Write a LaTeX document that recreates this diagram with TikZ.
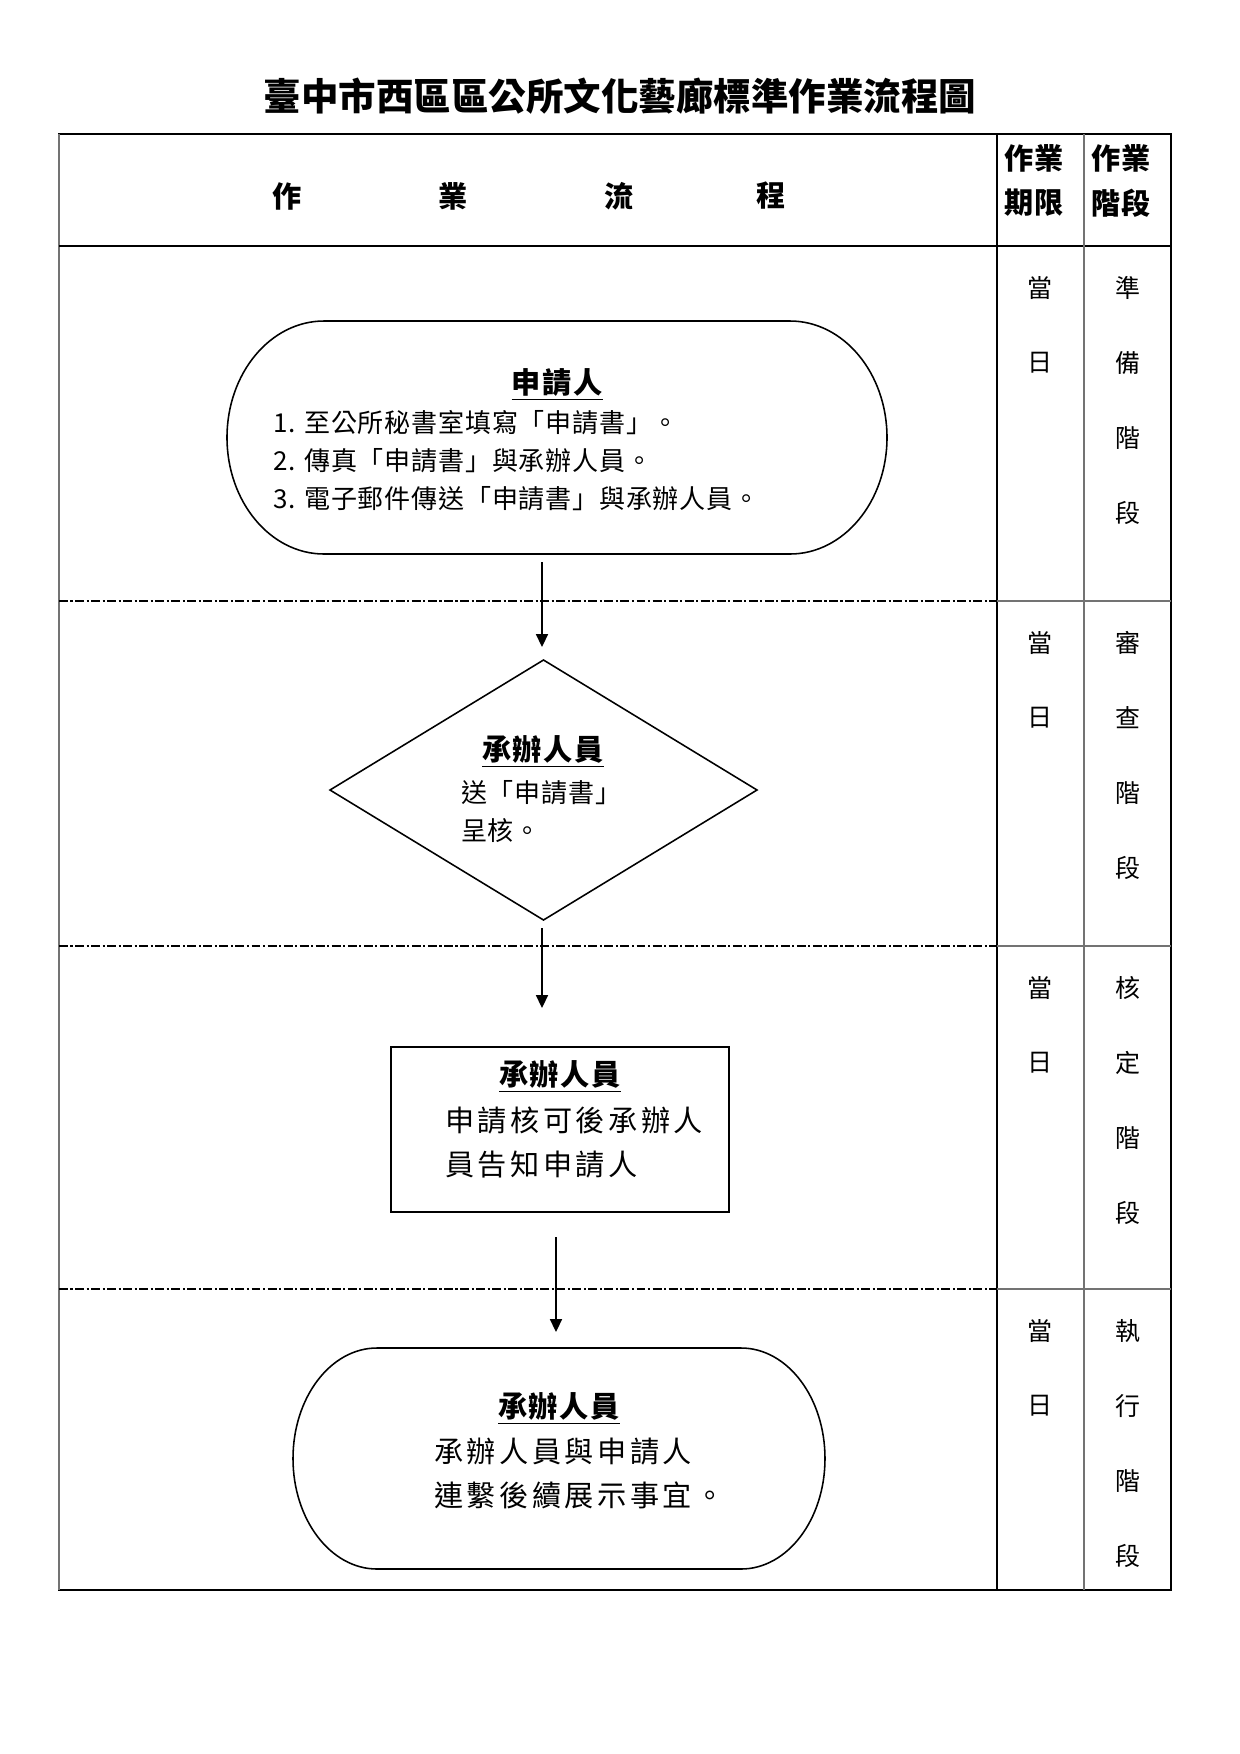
\documentclass[tikz,border=0pt]{standalone}
\usepackage{fontspec}
\setmainfont{Noto Sans CJK TC}
\usetikzlibrary{shapes.geometric,arrows.meta}
\newdimen\px \px=0.48pt
\begin{document}
\begin{tikzpicture}[x=0.48pt,y=0.48pt,
  every node/.style={inner sep=0pt, outer sep=0pt},
  tline/.style={line width=1pt, black},
  gline/.style={line width=1pt, black!55},
  dline/.style={line width=0.5pt, dash pattern=on 4.3pt off 1.2pt on 1pt off 1.2pt},
  shapeline/.style={line width=0.75pt},
  arr/.style={line width=0.7pt, -{Triangle[length=6.2pt,width=5.8pt]}},
  bigtitle/.style={font=\fontsize{18}{22}\selectfont\bfseries},
  headch/.style={font=\fontsize{14}{16}\selectfont\bfseries},
  colhead/.style={font=\fontsize{14}{16}\selectfont\bfseries\addfontfeature{LetterSpace=4}},
  colchar/.style={font=\fontsize{12}{14}\selectfont},
  ttl/.style={font=\fontsize{14}{16}\selectfont\bfseries\addfontfeature{LetterSpace=6}},
  txt/.style={anchor=west, font=\fontsize{12.5}{15}\selectfont\addfontfeature{LetterSpace=3}},
  wtxt/.style={anchor=west, font=\fontsize{14}{16}\selectfont\addfontfeature{LetterSpace=12}},
]
\useasboundingbox (0,0) rectangle (1240,-1754);

% title
\node[bigtitle] (title) at (620,-96) {臺中市西區區公所文化藝廊標準作業流程圖};

% table frame
\draw[tline] (59,-134) rectangle (1171,-1590);
\draw[gline] (59,-134) -- (59,-1590);
\draw[tline] (59,-246) -- (1171,-246);
\draw[line width=0.6pt] (997,-134) -- (997,-1590);
\draw[gline] (1084,-134) -- (1084,-1590);
\foreach \yy in {601,946,1289}{
  \draw[gline, line width=0.8pt] (997,-\yy) -- (1171,-\yy);
  \draw[dline] (59,-\yy) -- (997,-\yy);
}

% header
\node[headch] (h1) at (287,-196) {作};
\node[headch] (h2) at (453,-196) {業};
\node[headch] (h3) at (619,-196) {流};
\node[headch] (h4) at (771,-196) {程};
\node[colhead] (c1a) at (1034,-158) {作業};
\node[colhead] (c1b) at (1034,-203) {期限};
\node[colhead] (c2a) at (1121,-158) {作業};
\node[colhead] (c2b) at (1121,-203) {階段};

% right columns
\foreach \top/\a/\b/\c/\d [count=\i] in {246/準/備/階/段, 601/審/查/階/段, 946/核/定/階/段, 1289/執/行/階/段}{
  \node[colchar] (d\i a) at (1040,-\top-42) {當};
  \node[colchar] (d\i b) at (1040,-\top-117) {日};
  \node[colchar] (p\i a) at (1128,-\top-42) {\a};
  \node[colchar] (p\i b) at (1128,-\top-117) {\b};
  \node[colchar] (p\i c) at (1128,-\top-192) {\c};
  \node[colchar] (p\i d) at (1128,-\top-267) {\d};
}

% shape 1: stadium
\node[minimum width=660\px, minimum height=233\px] (s1) at (557,-437.5) {};
\draw[shapeline] ([xshift=97\px]s1.north west) -- ([xshift=-97\px]s1.north east)
  arc[start angle=90, end angle=-90, x radius=97\px, y radius=116.5\px]
  -- ([xshift=97\px]s1.south west)
  arc[start angle=270, end angle=90, x radius=97\px, y radius=116.5\px] -- cycle;
\node[ttl] (s1t) at (557,-385) {\underline{申請人}};
\node[txt] (s1l1) at (273,-423) {1. 至公所秘書室填寫「申請書」。};
\node[txt] (s1l2) at (273,-461) {2. 傳真「申請書」與承辦人員。};
\node[txt] (s1l3) at (273,-499) {3. 電子郵件傳送「申請書」與承辦人員。};

% shape 2: diamond
\node[diamond, draw, shapeline, minimum width=427\px, minimum height=260\px] (d) at (543.5,-790) {};
\node[ttl] (dt) at (543,-752) {\underline{承辦人員}};
\node[txt] (dl1) at (461,-793) {送「申請書」};
\node[txt] (dl2) at (461,-831) {呈核。};

% shape 3: rectangle
\node[draw, shapeline, minimum width=338\px, minimum height=165\px] (r) at (560,-1129.5) {};
\node[ttl] (rt) at (560,-1077) {\underline{承辦人員}};
\node[wtxt] (rl1) at (445,-1121) {申請核可後承辦人};
\node[wtxt] (rl2) at (445,-1165) {員告知申請人};

% shape 4: stadium
\node[minimum width=532\px, minimum height=221\px] (s4) at (559,-1458.5) {};
\draw[shapeline] ([xshift=84\px]s4.north west) -- ([xshift=-84\px]s4.north east)
  arc[start angle=90, end angle=-90, x radius=84\px, y radius=110.5\px]
  -- ([xshift=84\px]s4.south west)
  arc[start angle=270, end angle=90, x radius=84\px, y radius=110.5\px] -- cycle;
\node[ttl] (s4t) at (559,-1409) {\underline{承辦人員}};
\node[wtxt] (s4l1) at (434,-1452) {承辦人員與申請人};
\node[wtxt] (s4l2) at (434,-1495) {連繫後續展示事宜。};

% connectors
\draw[arr, shorten <=8\px, shorten >=13\px] ([xshift=-1.5\px]d.north |- s1.south) -- ([xshift=-1.5\px]d.north);
\draw[arr, shorten <=8\px, shorten >=39\px] ([xshift=-1.5\px]d.south) -- ([xshift=-1.5\px]d.south |- r.north);
\draw[arr, shorten <=25\px, shorten >=16\px] ([xshift=-4\px]r.south) -- ([xshift=-4\px]r.south |- s4.north);
\end{tikzpicture}
\end{document}
